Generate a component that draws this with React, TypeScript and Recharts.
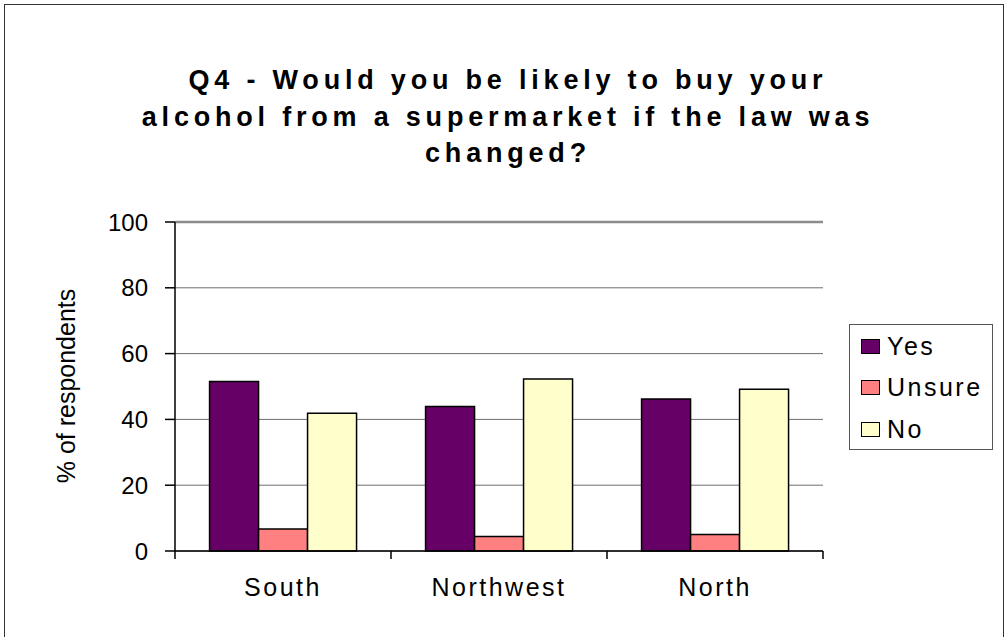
import React from 'react'
import { BarChart, Bar, XAxis, YAxis, CartesianGrid, ReferenceLine } from 'recharts'

const regions = ['South', 'Northwest', 'North']
const yesValues = [51.5, 43.9, 46.2]
const unsureValues = [6.7, 4.4, 5.0]
const noValues = [41.9, 52.3, 49.2]
const yTicks = [0, 20, 40, 60, 80, 100]

const seriesNames = ['Yes', 'Unsure', 'No']
const seriesColors = ['#660066', '#ff8080', '#ffffcc']

const titleLines = [
  'Q4 - Would you be likely to buy your',
  'alcohol from a supermarket if the law was',
  'changed?',
]

const data = regions.map((r, i) => ({
  region: r,
  Yes: yesValues[i],
  Unsure: unsureValues[i],
  No: noValues[i],
}))

const font = '"Liberation Sans", Arial, sans-serif'

function RegionTick(props: any) {
  const { x, y, payload, index, visibleTicksCount, width } = props
  const half = payload?.offset || (width && visibleTicksCount ? width / visibleTicksCount / 2 : 108)
  const isLast = index === visibleTicksCount - 1
  return (
    <g>
      <line x1={x - half} y1={y} x2={x - half} y2={y + 8} stroke="#000" strokeWidth={1.5} />
      {isLast && <line x1={x + half} y1={y} x2={x + half} y2={y + 8} stroke="#000" strokeWidth={1.5} />}
      <text
        x={x}
        y={y + 45}
        textAnchor="middle"
        fontSize={25}
        fontFamily={font}
        letterSpacing={2.5}
        fill="#000"
      >
        {payload.value}
      </text>
    </g>
  )
}

export default function App() {
  return (
    <div style={{ position: 'absolute', left: 0, top: 0, width: 1006, height: 637, overflow: 'hidden', background: '#fff', fontFamily: font }}>
      {/* chart frame */}
      <div style={{ position: 'absolute', left: 4, top: 4, width: 998, height: 660, border: '1.5px solid #333' }} />

      <div style={{ position: 'absolute', left: 0, top: 62, width: 1016, textAlign: 'center', fontWeight: 'bold', fontSize: 27, lineHeight: '36.5px', letterSpacing: 4.8, color: '#000' }}>
        {titleLines.map((l) => (
          <div key={l}>{l}</div>
        ))}
      </div>

      <div style={{ position: 'absolute', left: 66, top: 386, transform: 'translate(-50%, -50%) rotate(-90deg)', fontSize: 25, whiteSpace: 'nowrap', color: '#000' }}>
        % of respondents
      </div>

      <BarChart
        width={1006}
        height={637}
        data={data}
        margin={{ top: 222, right: 183, bottom: 46, left: 115 }}
        barCategoryGap="16%"
        barGap={0}
        style={{ position: 'absolute', left: 0, top: 0 }}
      >
        <CartesianGrid vertical={false} stroke="#6e6e6e" strokeWidth={1} />
        <XAxis
          dataKey="region"
          tickLine={false}
          tickSize={0}
          tickMargin={0}
          axisLine={{ stroke: '#000', strokeWidth: 1.5 }}
          height={40}
          tick={<RegionTick />}
          interval={0}
        />
        <YAxis
          domain={[0, 100]}
          ticks={yTicks}
          width={60}
          tickSize={10}
          tickMargin={17}
          axisLine={{ stroke: '#000', strokeWidth: 1.5 }}
          tickLine={{ stroke: '#000', strokeWidth: 1.5 }}
          tick={{ fontSize: 24, fill: '#000', fontFamily: font }}
        />
        <YAxis
          yAxisId="frame"
          orientation="right"
          domain={[0, 100]}
          width={0}
          tick={false}
          tickLine={false}
          axisLine={{ stroke: '#8c8c8c', strokeWidth: 2.5 }}
        />
        <ReferenceLine y={100} stroke="#8c8c8c" strokeWidth={2.5} />
        {seriesNames.map((name, i) => (
          <Bar key={name} dataKey={name} fill={seriesColors[i]} stroke="#000" strokeWidth={1.5} isAnimationActive={false} />
        ))}
      </BarChart>

      <div style={{ position: 'absolute', left: 849, top: 324, width: 142, height: 124, border: '1.5px solid #555', background: '#fff' }}>
        {seriesNames.map((name, i) => (
          <div key={name} style={{ position: 'absolute', left: 11, top: 7 + i * 41.5, height: 28, display: 'flex', alignItems: 'center' }}>
            <div style={{ width: 17, height: 13, background: seriesColors[i], border: '1.5px solid #000' }} />
            <span style={{ marginLeft: 7, fontSize: 25, letterSpacing: 2.5, color: '#000' }}>{name}</span>
          </div>
        ))}
      </div>
    </div>
  )
}
